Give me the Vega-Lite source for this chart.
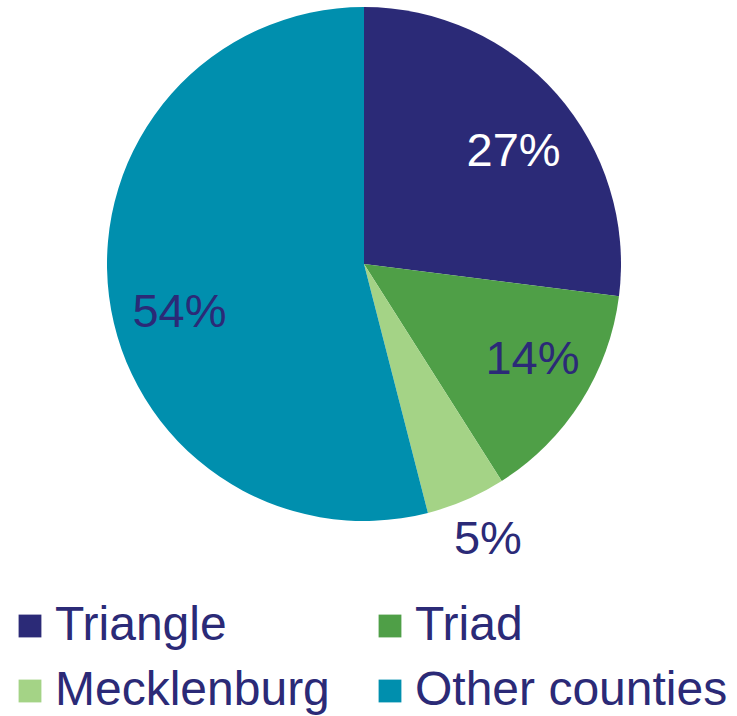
{
  "$schema": "https://vega.github.io/schema/vega-lite/v6.json",
  "width": 728,
  "height": 528,
  "autosize": "none",
  "padding": {"left": 0, "top": 0, "right": 9, "bottom": 188},
  "background": "white",
  "view": {"stroke": null},
  "config": {
    "font": "Liberation Sans",
    "legend": {
      "orient": "none",
      "direction": "horizontal",
      "legendX": 6,
      "legendY": 602,
      "columns": 2,
      "padding": 0,
      "symbolType": "square",
      "symbolSize": 520,
      "symbolStrokeWidth": 0,
      "symbolOpacity": 1,
      "labelFont": "Liberation Sans",
      "labelFontSize": 48,
      "labelColor": "#2B2A77",
      "labelOffset": 1,
      "labelLimit": 0,
      "rowPadding": 17,
      "columnPadding": 36
    }
  },
  "data": {
    "values": [
      {"region": "Triangle", "share": 27, "label": "27%", "rank": 1},
      {"region": "Triad", "share": 14, "label": "14%", "rank": 2},
      {"region": "Mecklenburg", "share": 5, "label": "5%", "rank": 3},
      {"region": "Other counties", "share": 54, "label": "54%", "rank": 4}
    ]
  },
  "encoding": {
    "theta": {"field": "share", "type": "quantitative", "stack": true},
    "order": {"field": "rank", "type": "quantitative"}
  },
  "layer": [
    {
      "mark": {"type": "arc", "outerRadius": 257, "stroke": null},
      "encoding": {
        "color": {
          "field": "region",
          "type": "nominal",
          "sort": null,
          "scale": {
            "domain": ["Triangle", "Triad", "Mecklenburg", "Other counties"],
            "range": ["#2B2A77", "#4F9F47", "#A4D386", "#008FAE"]
          },
          "legend": {"title": null}
        }
      }
    },
    {
      "mark": {"type": "text", "radius": 186, "dx": 10, "dy": 11, "fontSize": 47, "font": "Liberation Sans", "fill": "white", "align": "center", "baseline": "middle"},
      "encoding": {
        "detail": {"field": "region", "type": "nominal"},
        "text": {"condition": {"test": "datum.region !== 'Triangle'", "value": ""}, "field": "label", "type": "nominal"}
      }
    },
    {
      "mark": {"type": "text", "radius": 190, "dx": 8, "dy": -6, "fontSize": 47, "font": "Liberation Sans", "fill": "#2B2A77", "align": "center", "baseline": "middle"},
      "encoding": {
        "detail": {"field": "region", "type": "nominal"},
        "text": {"condition": {"test": "datum.region !== 'Triad'", "value": ""}, "field": "label", "type": "nominal"}
      }
    },
    {
      "mark": {"type": "text", "radius": 302, "dx": 4, "dy": -1, "fontSize": 47, "font": "Liberation Sans", "fill": "#2B2A77", "align": "center", "baseline": "middle"},
      "encoding": {
        "detail": {"field": "region", "type": "nominal"},
        "text": {"condition": {"test": "datum.region !== 'Mecklenburg'", "value": ""}, "field": "label", "type": "nominal"}
      }
    },
    {
      "mark": {"type": "text", "radius": 190, "dx": 4, "dy": 25, "fontSize": 47, "font": "Liberation Sans", "fill": "#2B2A77", "align": "center", "baseline": "middle"},
      "encoding": {
        "detail": {"field": "region", "type": "nominal"},
        "text": {"condition": {"test": "datum.region !== 'Other counties'", "value": ""}, "field": "label", "type": "nominal"}
      }
    }
  ]
}
